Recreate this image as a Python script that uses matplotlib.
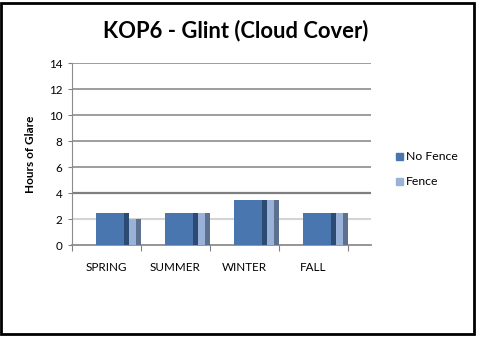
import matplotlib
matplotlib.use('Agg')
import matplotlib.pyplot as plt
import numpy as np
from matplotlib.patches import Rectangle

# Data
seasons = ['SPRING', 'SUMMER', 'WINTER', 'FALL']
no_fence = [2.5, 2.5, 3.5, 2.5]
fence = [2.0, 2.5, 3.5, 2.5]
y_ticks = [0, 2, 4, 6, 8, 10, 12, 14]

plt.rcParams['font.family'] = ['Lato', 'DejaVu Sans']

W, H = 487, 343
fig = plt.figure(figsize=(W / 100, H / 100), dpi=100)

# axes box in pixel coords: x 72..371, y 63..245
ax = fig.add_axes([72 / W, 1 - 245 / H, (371 - 72) / W, (245 - 63) / H])

x0 = np.arange(len(seasons))
# front faces and darker side strips (fake 3D look)
ax.bar(x0 + 0.348, no_fence, width=0.406, align='edge', color='#4A76B0', zorder=3)
ax.bar(x0 + 0.754, no_fence, width=0.072, align='edge', color='#2C4A72', zorder=3)
ax.bar(x0 + 0.826, fence, width=0.102, align='edge', color='#9BB2D8', zorder=3)
ax.bar(x0 + 0.928, fence, width=0.072, align='edge', color='#5E7090', zorder=3)

ax.set_xlim(0, 299 / 69)
ax.set_ylim(0, 14)

# gridlines
for y in y_ticks[1:]:
    if y == 2:
        ax.axhline(y, color='#D4D4D4', lw=1.5, zorder=1)
    elif y == 4:
        ax.axhline(y, color='#7F7F7F', lw=1.6, zorder=1)
    else:
        ax.axhline(y, color='#8C8C8C', lw=1.2, zorder=1)

ax.set_yticks(y_ticks)
ax.set_xticks(np.arange(len(seasons) + 1))
ax.set_xticklabels([])
for i, s in enumerate(seasons):
    ax.text(i + 0.5, -1.7, s, ha='center', va='center', fontsize=8.4)

ax.tick_params(axis='y', labelsize=8.4, length=3, color='#808080', pad=4)
ax.tick_params(axis='x', length=4, color='#808080', direction='out')
for side in ['top', 'right']:
    ax.spines[side].set_visible(False)
ax.spines['left'].set_color('#8C8C8C')
ax.spines['bottom'].set_color('#8C8C8C')
ax.spines['bottom'].set_linewidth(1.3)

ax.set_ylabel('Hours of Glare', fontsize=8.5, fontweight='bold', labelpad=9)

fig.text(236 / W, 1 - 31 / H, 'KOP6 - Glint (Cloud Cover)', ha='center', va='center',
         fontsize=15.8, fontweight='bold')

# legend
fig.patches.append(Rectangle((396 / W, 1 - 160 / H), 7 / W, 7 / H, transform=fig.transFigure,
                             color='#4A76B0'))
fig.text(406 / W, 1 - 156 / H, 'No Fence', fontsize=8.8, va='center')
fig.patches.append(Rectangle((396 / W, 1 - 185 / H), 7 / W, 7 / H, transform=fig.transFigure,
                             color='#9BB2D8'))
fig.text(406 / W, 1 - 181 / H, 'Fence', fontsize=8.8, va='center')

# outer chart border
fig.patches.append(Rectangle((1 / W, 1 - 334 / H), 473 / W, 331 / H, transform=fig.transFigure,
                             fill=False, edgecolor='black', lw=2))

fig.savefig('out.png', dpi=100)
